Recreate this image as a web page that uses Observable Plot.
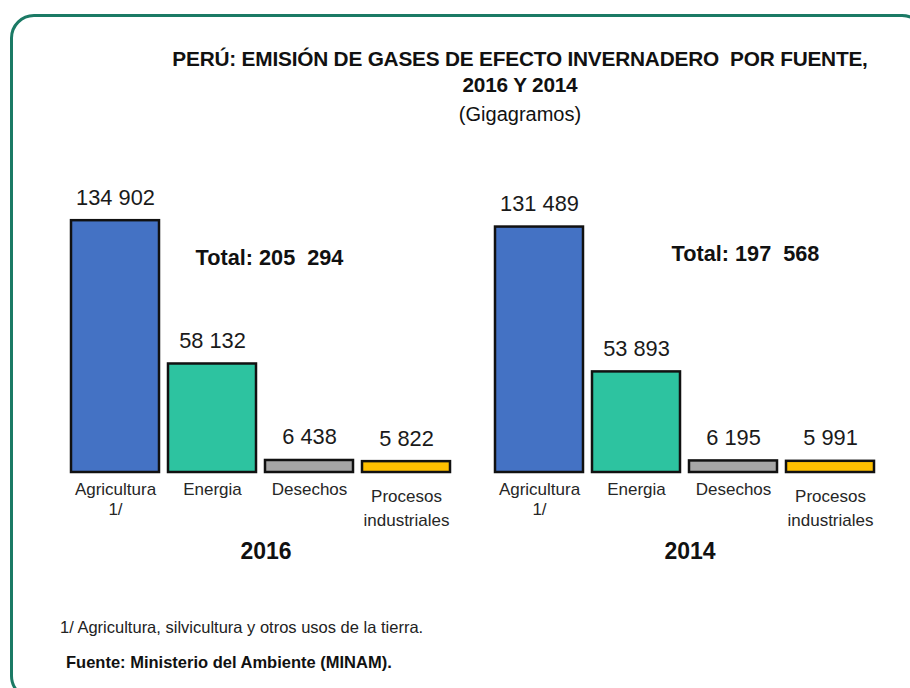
<!DOCTYPE html>
<html>
<head>
<meta charset="utf-8">
<script src="https://cdn.jsdelivr.net/npm/d3@7"></script>
<script src="https://cdn.jsdelivr.net/npm/@observablehq/plot@0.6"></script>
<style>
  body { margin: 0; background: #fff; font-family: "Liberation Sans", Arial, sans-serif; color: #111; }
  #wrap { position: relative; width: 910px; height: 688px; overflow: hidden; background: #fff; }
  #frame { position: absolute; left: 10px; top: 14px; width: 910px; height: 680px; border: 3px solid #1b7a65; border-radius: 24px; }
  #chart { position: absolute; left: 0; top: 0; }
  #title { position: absolute; left: 130px; top: 46px; width: 780px; text-align: center; }
  #title .t1 { font-weight: bold; font-size: 20.8px; line-height: 26px; letter-spacing: -0.2px; }
  #title .t2 { font-size: 20px; line-height: 32px; }
  #note { position: absolute; left: 60px; top: 618px; font-size: 16.5px; color: #222; }
  #src { position: absolute; left: 66px; top: 653px; font-size: 16.5px; font-weight: bold; color: #111; }
</style>
</head>
<body>
<div id="wrap">
  <div id="frame"></div>
  <div id="chart"></div>
  <div id="title">
    <div class="t1">PERÚ: EMISIÓN DE GASES DE EFECTO INVERNADERO&nbsp; POR FUENTE,</div>
    <div class="t1">2016 Y 2014</div>
    <div class="t2">(Gigagramos)</div>
  </div>
  <div id="note">1/ Agricultura, silvicultura y otros usos de la tierra.</div>
  <div id="src">Fuente: Ministerio del Ambiente (MINAM).</div>
</div>
<script>
const years = ["2016", "2014"];
const sources = ["Agricultura 1/", "Energia", "Desechos", "Procesos industriales"];
const sourceLabels = ["Agricultura\n1/", "Energia", "Desechos", "Procesos\nindustriales"];
const values2016 = [134902, 58132, 6438, 5822];
const values2014 = [131489, 53893, 6195, 5991];
const totals = [205294, 197568];
const colors = ["#4472C4", "#2DC3A0", "#A6A6A6", "#FFC000"];

const data = [];
sources.forEach((s, i) => data.push({year: "2016", source: s, label: sourceLabels[i], value: values2016[i]}));
sources.forEach((s, i) => data.push({year: "2014", source: s, label: sourceLabels[i], value: values2014[i]}));

const locale = d3.formatLocale({decimal: ",", thousands: " ", grouping: [3], currency: ["", ""]});
const fmt = locale.format(",d");
const totalData = years.map((y, i) => ({year: y, total: totals[i]}));
const totalText = d => "Total: " + fmt(d.total).replace(" ", "\u00a0 ");
const lastSource = sources[sources.length - 1];

const chart = Plot.plot({
  width: 910,
  height: 688,
  marginTop: 192,
  marginBottom: 216,
  marginLeft: 61,
  marginRight: 26,
  style: {fontFamily: "'Liberation Sans', Arial, sans-serif", background: "transparent"},
  fx: {domain: years, paddingInner: 0.06, paddingOuter: 0, axis: null, label: null},
  x: {domain: sources, padding: 0.09, axis: null},
  y: {domain: [0, 150000], axis: null},
  color: {domain: sources, range: colors},
  marks: [
    Plot.barY(data, {fx: "year", x: "source", y: "value", fill: "source", stroke: "#111", strokeWidth: 2.5}),
    Plot.text(data, {fx: "year", x: "source", y: "value", text: d => fmt(d.value), lineAnchor: "bottom", dy: -16, fontSize: 21.8, fill: "#1a1a1a"}),
    Plot.text(data.filter(d => d.source !== lastSource), {fx: "year", x: "source", text: "label", frameAnchor: "bottom", lineAnchor: "top", dy: 8, fontSize: 17, lineHeight: 1.2, fill: "#262626"}),
    Plot.text(data.filter(d => d.source === lastSource), {fx: "year", x: "source", text: "label", frameAnchor: "bottom", lineAnchor: "top", dy: 13, fontSize: 17, lineHeight: 1.4, fill: "#262626"}),
    Plot.text(years, {fx: d => d, text: d => d, frameAnchor: "bottom", dy: 86, dx: 5, fontSize: 23, fontWeight: "bold", fill: "#111"}),
    Plot.text(totalData.filter(d => d.year === "2016"), {fx: "year", x: () => "Desechos", text: totalText, frameAnchor: "top", dy: 57, dx: -40, fontSize: 21.7, fontWeight: "bold", fill: "#111"}),
    Plot.text(totalData.filter(d => d.year === "2014"), {fx: "year", x: () => "Desechos", text: totalText, frameAnchor: "top", dy: 53, dx: 12, fontSize: 21.7, fontWeight: "bold", fill: "#111"})
  ]
});
document.getElementById("chart").appendChild(chart);
</script>
</body>
</html>
